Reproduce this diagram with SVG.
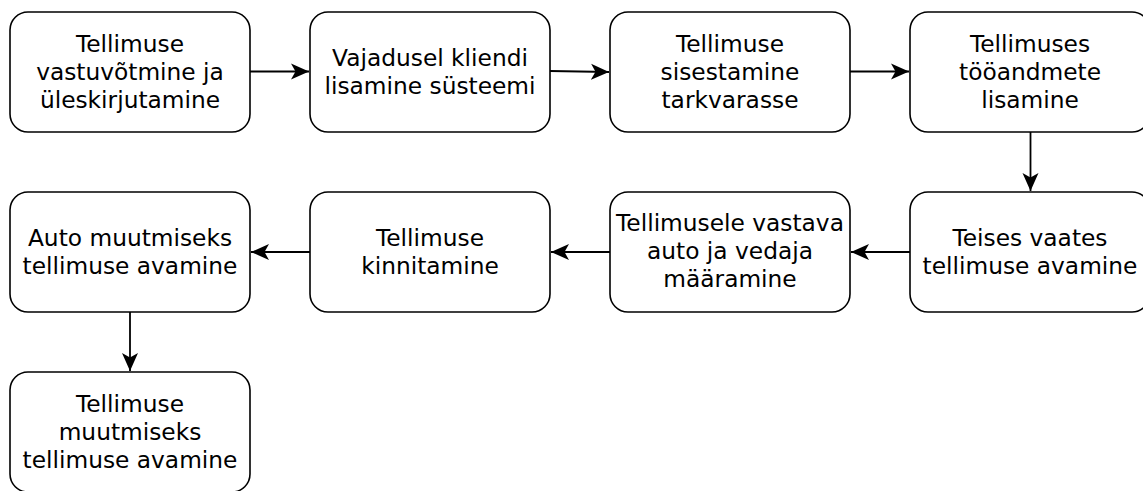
<svg xmlns="http://www.w3.org/2000/svg" width="1143" height="491" viewBox="0 0 1143 491">
<defs>
<style>
.box{fill:#fff;stroke:#000;stroke-width:1.6}
.t{font-family:"DejaVu Sans",Verdana,sans-serif;font-size:23.3px;fill:#000;text-anchor:middle}
.c{stroke:#000;stroke-width:1.8;fill:none}
</style>
<marker id="ah" markerUnits="userSpaceOnUse" markerWidth="24" markerHeight="24" viewBox="0 0 24 24" refX="18" refY="12" orient="auto">
<path d="M18,12 L0,4 L4.5,12 L0,20 Z" fill="#000"/>
</marker>
</defs>
<rect width="1143" height="491" fill="#fff"/>
<g id="connectors">
<path class="c" d="M250,71.5 L309,71.5" marker-end="url(#ah)"/>
<path class="c" d="M550,71 L609,72" marker-end="url(#ah)"/>
<path class="c" d="M850,71.5 L909,71.5" marker-end="url(#ah)"/>
<path class="c" d="M1030.5,132 L1030.5,191" marker-end="url(#ah)"/>
<path class="c" d="M910,252 L851,252" marker-end="url(#ah)"/>
<path class="c" d="M610,252 L551,252" marker-end="url(#ah)"/>
<path class="c" d="M310,252 L251,252" marker-end="url(#ah)"/>
<path class="c" d="M130,312 L130,371" marker-end="url(#ah)"/>
</g>
<g id="n1"><rect class="box" x="10" y="12" width="240" height="120" rx="18"/>
<text class="t" x="130" y="52">Tellimuse</text><text class="t" x="130" y="80">vastuvõtmine ja</text><text class="t" x="130" y="108">üleskirjutamine</text></g>
<g id="n2"><rect class="box" x="310" y="12" width="240" height="120" rx="18"/>
<text class="t" x="430" y="66">Vajadusel kliendi</text><text class="t" x="430" y="94">lisamine süsteemi</text></g>
<g id="n3"><rect class="box" x="610" y="12" width="240" height="120" rx="18"/>
<text class="t" x="730" y="52">Tellimuse</text><text class="t" x="730" y="80">sisestamine</text><text class="t" x="730" y="108">tarkvarasse</text></g>
<g id="n4"><rect class="box" x="910" y="12" width="240" height="120" rx="18"/>
<text class="t" x="1030" y="52">Tellimuses</text><text class="t" x="1030" y="80">tööandmete</text><text class="t" x="1030" y="108">lisamine</text></g>
<g id="n5"><rect class="box" x="910" y="192" width="240" height="120" rx="18"/>
<text class="t" x="1030" y="246">Teises vaates</text><text class="t" x="1030" y="274">tellimuse avamine</text></g>
<g id="n6"><rect class="box" x="610" y="192" width="240" height="120" rx="18"/>
<text class="t" x="730" y="231">Tellimusele vastava</text><text class="t" x="730" y="259">auto ja vedaja</text><text class="t" x="730" y="287">määramine</text></g>
<g id="n7"><rect class="box" x="310" y="192" width="240" height="120" rx="18"/>
<text class="t" x="430" y="246">Tellimuse</text><text class="t" x="430" y="274">kinnitamine</text></g>
<g id="n8"><rect class="box" x="10" y="192" width="240" height="120" rx="18"/>
<text class="t" x="130" y="246">Auto muutmiseks</text><text class="t" x="130" y="274">tellimuse avamine</text></g>
<g id="n9"><rect class="box" x="10" y="372" width="240" height="120" rx="18"/>
<text class="t" x="130" y="412">Tellimuse</text><text class="t" x="130" y="440">muutmiseks</text><text class="t" x="130" y="468">tellimuse avamine</text></g>
</svg>
